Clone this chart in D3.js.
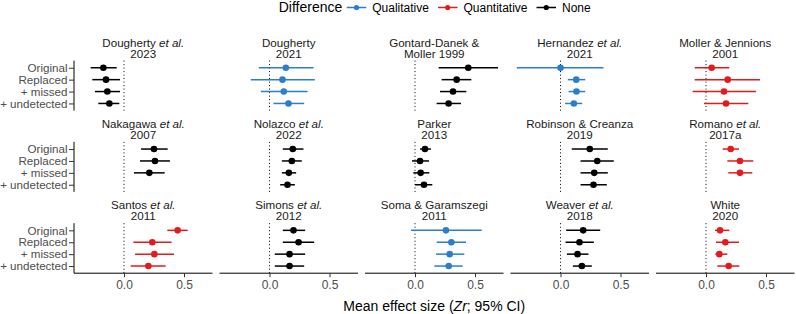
<!DOCTYPE html>
<html>
<head>
<meta charset="utf-8">
<script src="https://cdn.jsdelivr.net/npm/d3@7"></script>
<style>
  body { margin: 0; background: #fff; }
  svg { display: block; font-family: "Liberation Sans", Arial, sans-serif; }
</style>
</head>
<body>
<div id="chart"></div>
<script>
// study facets (first line of strip label, second line)
const authors = ["Dougherty et al.", "Dougherty", "Gontard-Danek &", "Hernandez et al.", "Moller & Jennions",
                 "Nakagawa et al.", "Nolazco et al.", "Parker", "Robinson & Creanza", "Romano et al.",
                 "Santos et al.", "Simons et al.", "Soma & Garamszegi", "Weaver et al.", "White"];
const years = ["2023", "2021", "Moller 1999", "2021", "2001",
               "2007", "2022", "2013", "2019", "2017a",
               "2011", "2012", "2011", "2018", "2020"];
const difference = ["None", "Qualitative", "None", "Qualitative", "Quantitative",
                    "None", "None", "None", "None", "Quantitative",
                    "Quantitative", "None", "Qualitative", "None", "Quantitative"];

const analyses = ["Original", "Replaced", "+ missed", "+ undetected"];

// mean Zr per study, in analysis order (null = not estimated)
const means = [
  [-0.172, -0.150, -0.139, -0.122],
  [0.136, 0.108, 0.119, 0.158],
  [0.444, 0.347, 0.317, 0.280],
  [0.000, 0.131, 0.133, 0.111],
  [0.047, 0.181, 0.150, 0.167],
  [0.250, 0.258, 0.211, null],
  [0.194, 0.186, 0.161, 0.150],
  [0.083, 0.042, 0.047, 0.075],
  [0.244, 0.306, 0.281, 0.275],
  [0.206, 0.283, 0.283, null],
  [0.447, 0.236, 0.253, 0.203],
  [0.200, 0.242, 0.167, 0.167],
  [0.258, 0.303, 0.289, 0.281],
  [0.189, 0.158, 0.142, 0.178],
  [0.117, 0.161, 0.111, 0.189]
];
const lowers = [
  [-0.278, -0.264, -0.242, -0.214],
  [-0.089, -0.156, -0.072, 0.033],
  [0.197, 0.222, 0.208, 0.180],
  [-0.364, 0.061, 0.067, 0.039],
  [-0.094, -0.094, -0.111, -0.017],
  [0.142, 0.133, 0.083, null],
  [0.111, 0.103, 0.103, 0.089],
  [0.042, -0.025, -0.014, 0.000],
  [0.094, 0.167, 0.167, 0.167],
  [0.139, 0.178, 0.186, null],
  [0.361, 0.078, 0.092, 0.056],
  [0.111, 0.111, 0.044, 0.044],
  [-0.033, 0.181, 0.175, 0.161],
  [0.047, 0.042, 0.053, 0.103],
  [0.075, 0.083, 0.078, 0.094]
];
const uppers = [
  [-0.061, -0.033, -0.033, -0.039],
  [0.367, 0.378, 0.317, 0.289],
  [0.692, 0.469, 0.428, 0.383],
  [0.358, 0.206, 0.206, 0.181],
  [0.194, 0.450, 0.417, 0.353],
  [0.364, 0.383, 0.339, null],
  [0.283, 0.269, 0.222, 0.211],
  [0.133, 0.117, 0.119, 0.144],
  [0.394, 0.444, 0.394, 0.386],
  [0.275, 0.394, 0.386, null],
  [0.531, 0.397, 0.417, 0.347],
  [0.297, 0.372, 0.297, 0.289],
  [0.556, 0.425, 0.411, 0.397],
  [0.331, 0.278, 0.233, 0.261],
  [0.194, 0.275, 0.178, 0.278]
];

const diffLevels = ["Qualitative", "Quantitative", "None"];
const diffColors = ["#2b7fca", "#e41a1c", "#000000"];
const xTicks = [0, 0.5];

const W = 796, H = 314;
const nCol = 5;
const panelLeft = 74, panelW = 138.5, colStep = 145.5;
const panelTop = 60.6, panelH = 50, rowStep = 81.3;

const color = d3.scaleOrdinal().domain(diffLevels).range(diffColors);
const x = d3.scaleLinear().domain([-0.4167, 0.7375]).range([0, panelW]);
const y = d3.scalePoint().domain(analyses).range([0, panelH]).padding(0.6);

const svg = d3.select("#chart").append("svg").attr("width", W).attr("height", H);

const addLabel = (sel, str) => {
  const m = str.match(/^(.*?)( et al\.)$/);
  if (m) {
    sel.append("tspan").text(m[1] + " ");
    sel.append("tspan").attr("font-style", "italic").text("et al.");
  } else {
    sel.text(str);
  }
};

authors.forEach((a, i) => {
  const col = i % nCol, row = Math.floor(i / nCol);
  const g = svg.append("g")
    .attr("transform", `translate(${panelLeft + col * colStep},${panelTop + row * rowStep})`);

  // strip title
  const t1 = g.append("text").attr("x", panelW / 2).attr("y", -14)
    .attr("text-anchor", "middle").attr("font-size", 11.6).attr("fill", "#1a1a1a");
  addLabel(t1, a);
  g.append("text").attr("x", panelW / 2).attr("y", -2.8)
    .attr("text-anchor", "middle").attr("font-size", 11.6).attr("fill", "#1a1a1a")
    .text(years[i]);

  // zero reference
  g.append("line")
    .attr("x1", x(0)).attr("x2", x(0)).attr("y1", 0).attr("y2", panelH)
    .attr("stroke", "#000").attr("stroke-width", 1).attr("stroke-dasharray", "1,2.5");

  const rows = analyses.map((an, k) => ({
    an, m: means[i][k], lo: lowers[i][k], hi: uppers[i][k]
  })).filter(d => d.m !== null);
  const c = color(difference[i]);

  g.selectAll("line.ci").data(rows).enter().append("line")
    .attr("class", "ci")
    .attr("x1", d => x(d.lo)).attr("x2", d => x(d.hi))
    .attr("y1", d => y(d.an)).attr("y2", d => y(d.an))
    .attr("stroke", c).attr("stroke-width", 1.5);
  g.selectAll("circle").data(rows).enter().append("circle")
    .attr("cx", d => x(d.m)).attr("cy", d => y(d.an)).attr("r", 3.3)
    .attr("fill", c);

  if (col === 0) {
    const ya = g.append("g").call(d3.axisLeft(y).tickSize(5).tickPadding(1.5));
    ya.select(".domain").attr("stroke", "#000").attr("d", `M0,0V${panelH}`);
    ya.selectAll(".tick line").attr("stroke", "#333");
    ya.selectAll("text").attr("font-size", 11.6).attr("fill", "#4d4d4d")
      .attr("font-family", "Liberation Sans, Arial, sans-serif");
  }
  if (row === 2) {
    const xa = g.append("g").attr("transform", `translate(0,${panelH})`)
      .call(d3.axisBottom(x).tickValues(xTicks).tickFormat(d3.format(".1f")).tickSize(4).tickPadding(3));
    xa.select(".domain").attr("stroke", "#000").attr("d", `M0,0H${panelW}`);
    xa.selectAll(".tick line").attr("stroke", "#333");
    xa.selectAll("text").attr("font-size", 12).attr("fill", "#4d4d4d")
      .attr("font-family", "Liberation Sans, Arial, sans-serif");
  }
});

// x axis title
const xt = svg.append("text").attr("x", panelLeft + (4 * colStep + panelW) / 2).attr("y", 311)
  .attr("text-anchor", "middle").attr("font-size", 14).attr("fill", "#000");
xt.append("tspan").text("Mean effect size (");
xt.append("tspan").attr("font-style", "italic").text("Zr");
xt.append("tspan").text("; 95% CI)");

// legend
const leg = svg.append("g").attr("transform", "translate(278.7,0)");
const lt = leg.append("text").attr("x", 0).attr("y", 12).attr("font-size", 14).text("Difference");
let lx = lt.node().getComputedTextLength() + 4.5;
diffLevels.forEach(lv => {
  leg.append("line").attr("x1", lx).attr("x2", lx + 19.5).attr("y1", 7.5).attr("y2", 7.5)
    .attr("stroke", color(lv)).attr("stroke-width", 1.5);
  leg.append("circle").attr("cx", lx + 9.75).attr("cy", 7.5).attr("r", 2.6).attr("fill", color(lv));
  const tx = leg.append("text").attr("x", lx + 25.5).attr("y", 11.5).attr("font-size", 12)
    .attr("fill", "#000").text(lv);
  lx += 25.5 + tx.node().getComputedTextLength() + 9;
});
</script>
</body>
</html>
